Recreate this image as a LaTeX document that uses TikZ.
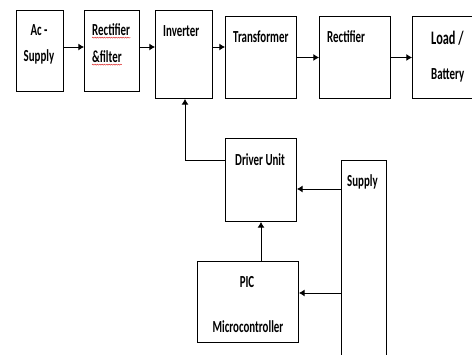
\documentclass[tikz,border=0pt]{standalone}
\usepackage{graphicx}
\usepackage{fontspec}
\setmainfont{Carlito}
\usetikzlibrary{shapes,arrows.meta,positioning,calc,decorations.pathmorphing}
\definecolor{spellred}{RGB}{220,40,40}
\newcommand{\tall}[1]{\scalebox{1}[1.55]{#1}}

\begin{document}
\begin{tikzpicture}[
    x=0.03cm, y=-0.03cm,
    blk/.style={rectangle, draw, line width=0.8pt, anchor=north west, inner sep=0pt},
    txt/.style={inner sep=0pt, font=\fontsize{9.3}{11}\selectfont\bfseries},
    arrow/.style={-{Latex[length=1.7mm, width=2.1mm]}, line width=0.8pt},
    squiggle/.style={spellred, line width=0.4pt, decorate, decoration={snake, amplitude=0.45pt, segment length=2pt}}
]
    \useasboundingbox (0,0) rectangle (472,354);
    % top row
    \node[blk, minimum width=1.41cm, minimum height=2.43cm] (ac) at (16,10) {};
    \node[blk, minimum width=1.65cm, minimum height=2.43cm] (rf) at (84,10) {};
    \node[blk, minimum width=1.71cm, minimum height=2.64cm] (inv) at (155,10) {};
    \node[blk, minimum width=2.13cm, minimum height=2.46cm] (tr) at (225,16) {};
    \node[blk, minimum width=2.13cm, minimum height=2.46cm] (rc) at (319,16) {};
    \node[blk, minimum width=1.86cm, minimum height=2.46cm] (ld) at (412,16) {};
    % control part
    \node[blk, minimum width=2.13cm, minimum height=2.49cm] (du) at (225,138) {};
    \node[blk, minimum width=1.35cm, minimum height=6.0cm] (sp) at (341,160) {};
    \node[blk, minimum width=3.03cm, minimum height=2.43cm] (pic) at (197,261) {};
    % texts
    \node[txt] (ac1) at (39,30) {\tall{Ac -}};
    \node[txt] (ac2) at (39,57) {\tall{Supply}};
    \node[txt, anchor=west] (rf1) at (92,30) {\tall{Rectifier}};
    \node[txt, anchor=west] (rf2) at (92,57) {\tall{\&filter}};
    \node[txt, anchor=west] (inv1) at (163,31) {\tall{Inverter}};
    \node[txt, anchor=west] (tr1) at (233,37) {\tall{Transformer}};
    \node[txt, anchor=west] (rc1) at (327,37) {\tall{Rectifier}};
    \node[txt, anchor=west, font=\fontsize{10.5}{12}\selectfont\bfseries] (ld1) at (431,38) {\tall{Load /}};
    \node[txt, anchor=west] (ld2) at (431,75) {\tall{Battery}};
    \node[txt, anchor=west] (du1) at (235,160) {\tall{Driver Unit}};
    \node[txt, anchor=west] (sp1) at (347,182) {\tall{Supply}};
    \node[txt] (pic1) at (247,282) {\tall{PIC}};
    \node[txt] (pic2) at (248,327) {\tall{Microcontroller}};
    \draw[squiggle] ([yshift=-1.2pt]rf1.south west) -- ([yshift=-1.2pt]rf1.south east);
    \draw[squiggle] ([yshift=-1.2pt]rf2.south west) -- ([yshift=-1.2pt]rf2.south east);
    % connectors
    \coordinate (bus) at (0,47);
    \coordinate (fb) at (185,160);
    \coordinate (s1) at (0,189);
    \coordinate (s2) at (0,293);
    \draw[arrow] (ac.east |- bus) -- (rf.west |- bus);
    \draw[arrow] (rf.east |- bus) -- (inv.west |- bus);
    \draw[arrow] (inv.east |- bus) -- (tr.west |- bus);
    \draw[arrow] (tr) -- (rc);
    \draw[arrow] (rc) -- (ld);
    \draw[arrow] (du.west |- fb) -- (fb) -- (inv.south -| fb);
    \draw[arrow] (sp.west |- s1) -- (du.east |- s1);
    \draw[arrow] (sp.west |- s2) -- (pic.east |- s2);
    \draw[arrow] (du.south |- pic.north) -- (du.south);
\end{tikzpicture}
\end{document}
